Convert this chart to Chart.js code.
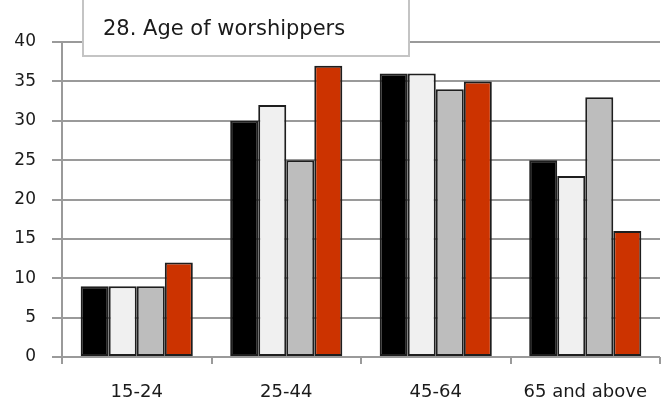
<!DOCTYPE html>
<html>
<head>
<meta charset="utf-8">
<script src="https://cdn.jsdelivr.net/npm/chart.js@4.4.0/dist/chart.umd.min.js"></script>
<style>
  html, body { margin: 0; padding: 0; background: #fff; }
  #wrap { width: 661px; height: 408px; }
</style>
</head>
<body>
<div id="wrap"><canvas id="myChart" width="661" height="408"></canvas></div>
<script>
const categories = ["15-24", "25-44", "45-64", "65 and above"];
const seriesA = [9, 30, 36, 25];
const seriesB = [9, 32, 36, 23];
const seriesC = [9, 25, 34, 33];
const seriesD = [12, 37, 35, 16];
const yTicks = [0, 5, 10, 15, 20, 25, 30, 35, 40];
const titleText = "28. Age of worshippers";

// title box sitting over the top of the plot
const titleBox = {
  id: "titleBox",
  afterDraw(chart) {
    const ctx = chart.ctx;
    ctx.save();
    ctx.fillStyle = "#ffffff";
    ctx.fillRect(83, -2, 326, 58);
    ctx.strokeStyle = "#c4c4c4";
    ctx.lineWidth = 2;
    ctx.strokeRect(83, -2, 326, 58);
    ctx.fillStyle = "#1a1a1a";
    ctx.font = "21px 'DejaVu Sans'";
    ctx.textBaseline = "middle";
    ctx.fillText(titleText, 103, 30);
    ctx.restore();
  }
};

const ctx = document.getElementById("myChart").getContext("2d");
const border = "#1e1e1e";

new Chart(ctx, {
  type: "bar",
  data: {
    labels: categories,
    datasets: [
      { label: "A", data: seriesA, backgroundColor: "#000000", borderColor: border, borderWidth: 2, borderSkipped: false },
      { label: "B", data: seriesB, backgroundColor: "#f0f0f0", borderColor: border, borderWidth: 2, borderSkipped: false },
      { label: "C", data: seriesC, backgroundColor: "#bdbdbd", borderColor: border, borderWidth: 2, borderSkipped: false },
      { label: "D", data: seriesD, backgroundColor: "#cc3300", borderColor: border, borderWidth: 2, borderSkipped: false },
    ],
  },
  options: {
    responsive: false,
    animation: false,
    layout: { padding: { top: 42, right: 1, left: 0, bottom: 0 } },
    datasets: { bar: { categoryPercentage: 0.75, barPercentage: 1.0 } },
    plugins: {
      legend: { display: false },
      title: { display: false },
      tooltip: { enabled: false },
    },
    scales: {
      x: {
        grid: { offset: true, drawOnChartArea: false, drawTicks: true, tickLength: 7, color: "#9a9a9a", lineWidth: 2 },
        border: { display: false },
        ticks: { color: "#1a1a1a", font: { family: "DejaVu Sans", size: 18 }, padding: 18, maxRotation: 0 },
        afterFit: (s) => { s.height = 51; s.paddingLeft = 0; s.paddingRight = 0; },
      },
      y: {
        min: 0,
        max: 40,
        afterBuildTicks: (s) => { s.ticks = yTicks.map((v) => ({ value: v })); },
        grid: { color: "#9a9a9a", lineWidth: 2, tickLength: 10 },
        border: { display: true, color: "#9a9a9a", width: 2 },
        ticks: { color: "#1a1a1a", font: { family: "DejaVu Sans", size: 17 }, padding: 16 },
        afterFit: (s) => { s.width = 62; s.paddingTop = 0; s.paddingBottom = 0; },
      },
    },
  },
  plugins: [titleBox],
});
</script>
</body>
</html>
